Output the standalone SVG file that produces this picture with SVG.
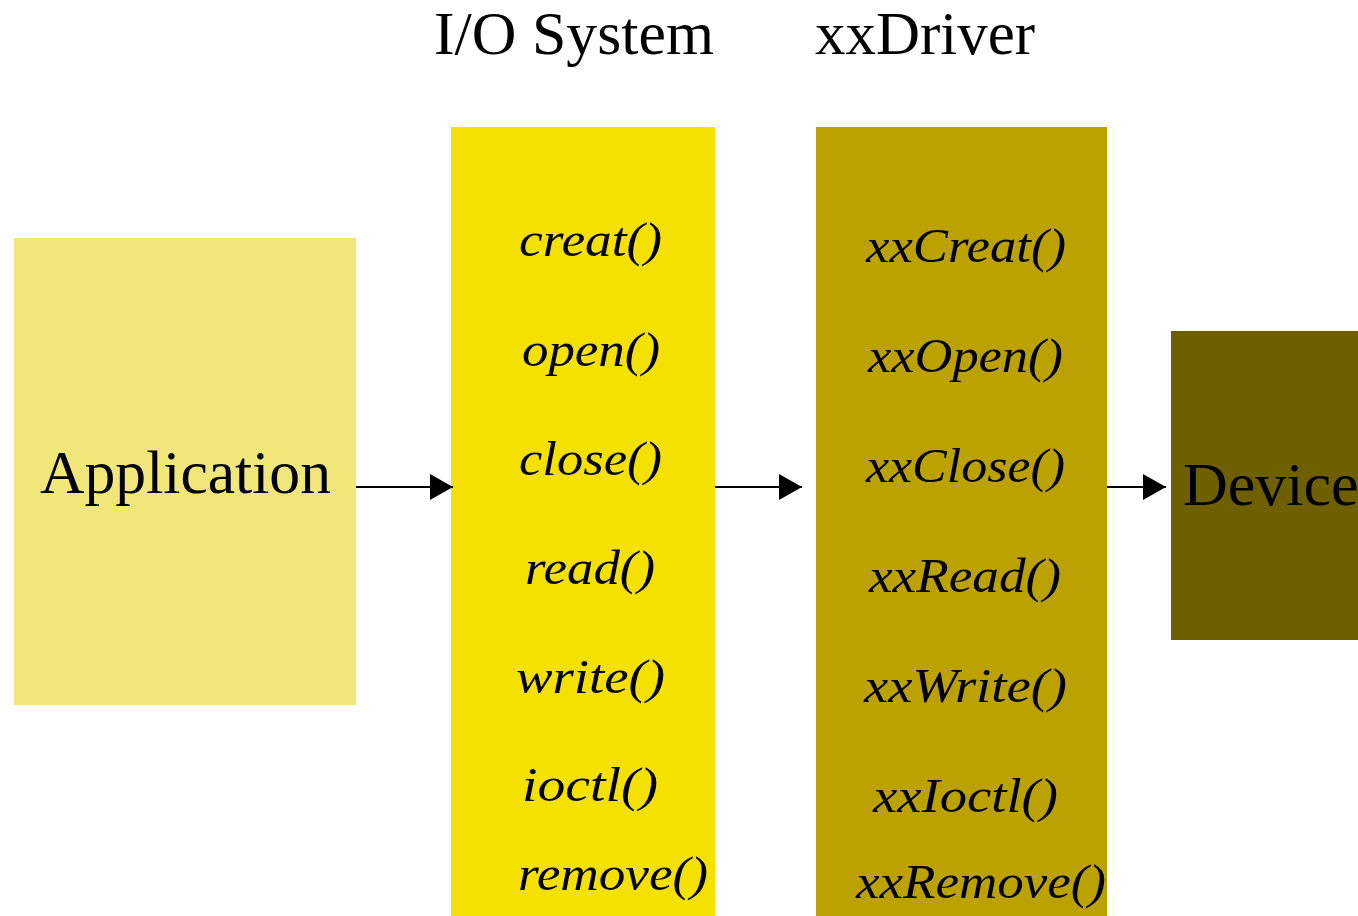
<svg xmlns="http://www.w3.org/2000/svg" width="1358" height="916" viewBox="0 0 1358 916">
<style>
.title{font-family:"Liberation Serif","Times New Roman",serif;font-size:62px;fill:#000}
.fn{font-family:"Liberation Serif","Times New Roman",serif;font-style:italic;font-size:48px;fill:#000}
.conn{stroke:#000;stroke-width:2;fill:none;marker-end:url(#arr)}
</style>
<defs>
<marker id="arr" markerUnits="userSpaceOnUse" markerWidth="24" markerHeight="26" refX="23" refY="13" orient="auto">
<path d="M0,0 L23,13 L0,26 Z" fill="#000"/>
</marker>
</defs>
<rect x="0" y="0" width="1358" height="916" fill="#fff"/>
<text class="title" x="434" y="54" textLength="280" lengthAdjust="spacingAndGlyphs">I/O System</text>
<text class="title" x="815" y="54" textLength="220" lengthAdjust="spacingAndGlyphs">xxDriver</text>
<g id="application">
<rect x="14" y="238" width="342" height="467" fill="#f0e67a"/>
<text class="title" x="40" y="493" font-size="61" textLength="291" lengthAdjust="spacingAndGlyphs">Application</text>
</g>
<g id="io-system">
<rect x="451" y="127" width="264" height="789" fill="#f5e100"/>
<text class="fn" x="519" y="256" textLength="143" lengthAdjust="spacingAndGlyphs">creat()</text>
<text class="fn" x="522" y="366" textLength="138" lengthAdjust="spacingAndGlyphs">open()</text>
<text class="fn" x="519" y="475" textLength="143" lengthAdjust="spacingAndGlyphs">close()</text>
<text class="fn" x="525" y="584" textLength="130" lengthAdjust="spacingAndGlyphs">read()</text>
<text class="fn" x="516" y="693" textLength="149" lengthAdjust="spacingAndGlyphs">write()</text>
<text class="fn" x="522" y="801" textLength="136" lengthAdjust="spacingAndGlyphs">ioctl()</text>
<text class="fn" x="518" y="890" textLength="190" lengthAdjust="spacingAndGlyphs">remove()</text>
</g>
<g id="xxdriver">
<rect x="816" y="127" width="291" height="789" fill="#bca200"/>
<text class="fn" x="866" y="262" textLength="200" lengthAdjust="spacingAndGlyphs">xxCreat()</text>
<text class="fn" x="868" y="372" textLength="195" lengthAdjust="spacingAndGlyphs">xxOpen()</text>
<text class="fn" x="866" y="482" textLength="199" lengthAdjust="spacingAndGlyphs">xxClose()</text>
<text class="fn" x="869" y="592" textLength="192" lengthAdjust="spacingAndGlyphs">xxRead()</text>
<text class="fn" x="864" y="702" textLength="203" lengthAdjust="spacingAndGlyphs">xxWrite()</text>
<text class="fn" x="873" y="812" textLength="185" lengthAdjust="spacingAndGlyphs">xxIoctl()</text>
<text class="fn" x="856" y="898" textLength="250" lengthAdjust="spacingAndGlyphs">xxRemove()</text>
</g>
<g id="device">
<rect x="1171" y="331" width="190" height="309" fill="#6e6000"/>
<text class="title" x="1183" y="505">Device</text>
</g>
<g id="connectors">
<line class="conn" x1="356" y1="487" x2="453" y2="487"/>
<line class="conn" x1="715" y1="487" x2="802" y2="487"/>
<line class="conn" x1="1107" y1="487" x2="1166" y2="487"/>
</g>
</svg>
